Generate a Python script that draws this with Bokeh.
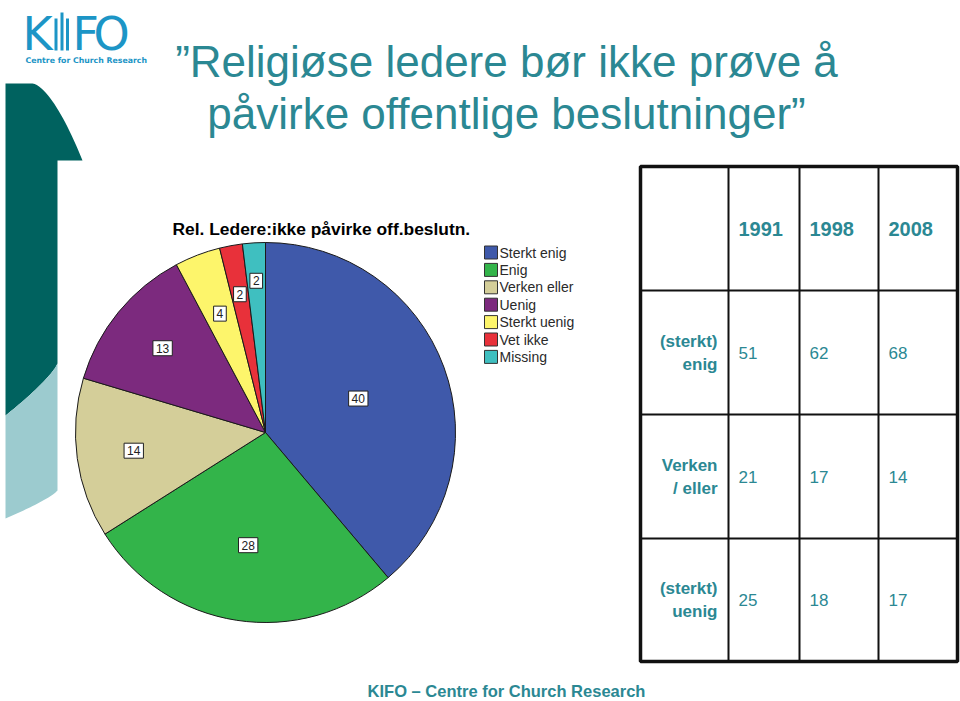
import numpy as np
from bokeh.plotting import figure
from bokeh.models import Range1d
from bokeh.core.properties import value
from bokeh.embed import file_html
from bokeh.resources import INLINE

# ---------------- data ----------------
pie_title = "Rel. Ledere:ikke påvirke off.beslutn."
categories = ["Sterkt enig", "Enig", "Verken eller", "Uenig", "Sterkt uenig", "Vet ikke", "Missing"]
pie_values = [40, 28, 14, 13, 4, 2, 2]
pie_colors = ["#3f59aa", "#33b44a", "#d4ce99", "#7c2a7e", "#fdf56b", "#e8313a", "#3fbfc0"]

years = ["1991", "1998", "2008"]
row_labels = [["(sterkt)", "enig"], ["Verken", "/ eller"], ["(sterkt)", "uenig"]]
enig_values = [51, 62, 68]
verken_values = [21, 17, 14]
uenig_values = [25, 18, 17]
table_values = [enig_values, verken_values, uenig_values]

title_lines = ["\u201dReligiøse ledere bør ikke prøve å", "påvirke offentlige beslutninger\u201d"]
footer = "KIFO \u2013 Centre for Church Research"

# ---------------- layout ----------------
W, H = 960, 701
def Y(sy):
    return H - sy

TEAL = "#2b8893"
FONT = value("Liberation Sans")

p = figure(width=W, height=H, x_range=Range1d(0, W), y_range=Range1d(0, H),
           output_backend="svg", toolbar_location=None, min_border=0)
p.axis.visible = False
p.grid.visible = False
p.outline_line_color = None
p.background_fill_color = "white"
p.border_fill_color = "white"

# decorative left shapes
t = np.linspace(0, 1, 24)
arc1x = 32 + 50 * t
arc1y = 83 + 77 * t ** 1.6
mid_x = 57 - 52 * t
mid_y = 363 + 52 * t ** 0.8
dark_x = [5] + list(arc1x) + [57] + list(mid_x) + [5]
dark_y = [83] + list(arc1y) + [160] + list(mid_y) + [83]
p.patch(dark_x, [Y(v) for v in dark_y], fill_color="#00625f", line_color=None)
bot_x = 5 + 52 * t
bot_y = 518 - 28 * (1 - (1 - t) ** 0.8)
light_x = list(mid_x) + list(bot_x)
light_y = list(mid_y) + list(bot_y)
p.patch(light_x, [Y(v) for v in light_y], fill_color="#9ccbcf", line_color=None)

# logo
LOGO = "#1c95c6"
p.text(x=[22], y=[Y(33)], text=["K"], text_font=value("DejaVu Sans"), text_font_size="46px",
       text_color=LOGO, text_baseline="middle", text_align="left")
p.segment(x0=[55.5, 61.5, 67], y0=[Y(18), Y(12), Y(18)], x1=[55.5, 61.5, 67], y1=[Y(50), Y(50), Y(50)],
          line_color=LOGO, line_width=3)
p.text(x=[72, 93], y=[Y(33), Y(33)], text=["F", "O"], text_font=value("DejaVu Sans"), text_font_size="46px",
       text_color=LOGO, text_baseline="middle", text_align="left")
p.text(x=[25], y=[Y(60)], text=["Centre for Church Research"], text_font=value("DejaVu Sans"),
       text_font_size="7.8px", text_font_style="bold", text_color=LOGO, text_baseline="middle")

# title
p.text(x=[506, 506], y=[Y(61), Y(113)], text=title_lines, text_font=FONT, text_font_size="44px",
       text_color=TEAL, text_align="center", text_baseline="middle")

# pie title
p.text(x=[172], y=[Y(228)], text=[pie_title], text_font=FONT, text_font_size="17.4px",
       text_font_style="bold", text_color="black", text_baseline="middle")

# pie
cx, cy, R = 265, Y(432), 190
vals = np.array(pie_values, dtype=float)
total = vals.sum()
cum = np.concatenate([[0], np.cumsum(vals)])
start = np.pi / 2 - 2 * np.pi * cum[:-1] / total
end = np.pi / 2 - 2 * np.pi * cum[1:] / total
p.wedge(x=cx, y=cy, radius=R, start_angle=list(start), end_angle=list(end), direction="clock",
        fill_color=pie_colors, line_color="#1a1a1a", line_width=1)

label_frac = [0.52, 0.6, 0.7, 0.7, 0.67, 0.74, 0.8]
mid = (start + end) / 2
lx = [cx + R * f * np.cos(a) for f, a in zip(label_frac, mid)]
ly = [cy + R * f * np.sin(a) for f, a in zip(label_frac, mid)]
p.text(x=lx, y=ly, text=[str(v) for v in pie_values], text_font=FONT, text_font_size="12px",
       text_color="#222222", text_align="center", text_baseline="middle",
       background_fill_color="white", border_line_color="#222222", border_line_width=1, padding=3)

# legend
lg_x, lg_y0, lg_dy, sq = 484, 252, 17.4, 13
ly_leg = [Y(lg_y0 + i * lg_dy) for i in range(len(categories))]
p.rect(x=[lg_x + sq / 2] * len(categories), y=ly_leg, width=sq, height=sq,
       fill_color=pie_colors, line_color="#333333", line_width=1)
p.text(x=[lg_x + sq + 2] * len(categories), y=ly_leg, text=categories, text_font=FONT,
       text_font_size="14px", text_color="#2a2a2a", text_baseline="middle", text_align="left")

# table
col_edges = [640, 728, 799, 878, 957]
row_edges = [166, 290, 414, 538, 661]
p.segment(x0=col_edges[1:-1], y0=[Y(row_edges[0])] * 3, x1=col_edges[1:-1], y1=[Y(row_edges[-1])] * 3,
          line_color="#111111", line_width=2)
p.segment(x0=[col_edges[0]] * 3, y0=[Y(r) for r in row_edges[1:-1]], x1=[col_edges[-1]] * 3,
          y1=[Y(r) for r in row_edges[1:-1]], line_color="#111111", line_width=2)
p.quad(left=[col_edges[0]], right=[col_edges[-1]], top=[Y(row_edges[0])], bottom=[Y(row_edges[-1])],
       fill_color=None, line_color="#111111", line_width=3.5)

pad = 10
p.text(x=[c + pad for c in col_edges[1:4]], y=[Y(228)] * 3, text=years, text_font=FONT,
       text_font_size="20px", text_font_style="bold", text_color=TEAL, text_baseline="middle")

for i, (labs, vals_row) in enumerate(zip(row_labels, table_values)):
    rc = (row_edges[i + 1] + row_edges[i + 2]) / 2
    p.text(x=[717, 717], y=[Y(rc - 11.5), Y(rc + 11.5)], text=labs, text_font=FONT,
           text_font_size="17px", text_font_style="bold", text_color=TEAL,
           text_align="right", text_baseline="middle")
    p.text(x=[c + pad for c in col_edges[1:4]], y=[Y(rc)] * 3, text=[str(v) for v in vals_row],
           text_font=FONT, text_font_size="17px", text_color=TEAL, text_baseline="middle")

# footer
p.text(x=[506], y=[Y(690)], text=[footer], text_font=FONT, text_font_size="16.5px",
       text_font_style="bold", text_color=TEAL, text_align="center", text_baseline="middle")

open("out.html", "w").write(file_html(p, INLINE))
